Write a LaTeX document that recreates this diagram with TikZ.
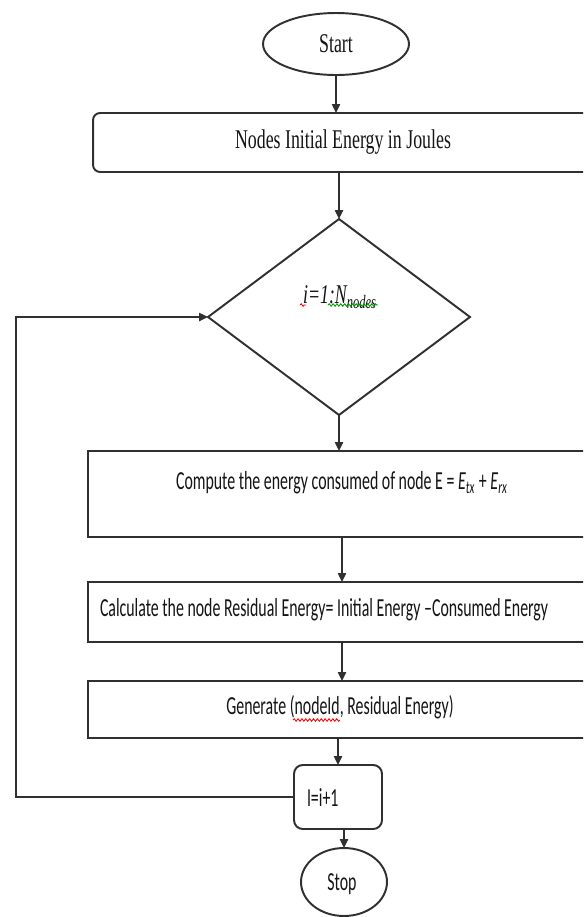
\documentclass[tikz,border=0pt]{standalone}
\usepackage{fontspec}
\usetikzlibrary{shapes.geometric,arrows.meta,decorations.pathmorphing}
\newfontfamily\tnrfont[FakeStretch=0.66]{Liberation Serif}
\newfontfamily\calfont[FakeStretch=0.61]{Carlito}
\definecolor{ln}{HTML}{303030}
\definecolor{txt}{HTML}{151515}
\tikzset{
  x=0.02cm, y=-0.02cm,
  every node/.style={inner sep=0pt, outer sep=0pt, text=txt},
  shp/.style={draw=ln, line width=1.1pt, fill=white},
  arr/.style={draw=ln, line width=1.1pt, -{Triangle[length=5pt,width=4.5pt]}},
  serif/.style={font=\tnrfont\fontsize{15.4}{18}\selectfont},
  sans/.style={font=\calfont\fontsize{14.8}{18}\selectfont},
  squig/.style={line width=0.5pt, decorate, decoration={snake, segment length=2.2pt, amplitude=0.7pt}}
}
\begin{document}
\begin{tikzpicture}
\clip (0,0) rectangle (583,917);
\fill[white] (0,0) rectangle (583,917);
% shapes
\node[shp, ellipse, minimum width=2.92cm, minimum height=1.24cm] (start) at (336,44) {};
\node[serif] (starttxt) at (336,44) {Start};
\node[shp, rectangle, rounded corners=4pt, minimum width=10.0cm, minimum height=1.18cm] (init) at (343,142.5) {};
\node[serif] (inittxt) at (343,142) {Nodes Initial Energy in Joules};
\node[shp, diamond, minimum width=5.24cm, minimum height=3.92cm] (dia) at (339,317) {};
\node[serif, font=\tnrfont\itshape\fontsize{15.4}{18}\selectfont] (diatxt) at (340,297) {i=1:N\textsubscript{nodes}};
\node[shp, rectangle, minimum width=10.16cm, minimum height=1.72cm] (comp) at (342,494) {};
\node[sans] (comptxt) at (342,483) {Compute the energy consumed of node E = \textit{E}\textsubscript{\textit{tx}} + \textit{E}\textsubscript{\textit{rx}}};
\node[shp, rectangle, minimum width=10.16cm, minimum height=1.2cm] (calc) at (342,612) {};
\node[sans, anchor=west] (calctxt) at (100,610) {Calculate the node Residual Energy= Initial Energy –Consumed Energy};
\node[shp, rectangle, minimum width=10.16cm, minimum height=1.14cm] (gen) at (342,709.5) {};
\node[sans] (gentxt) at (340,707) {Generate (nodeId, Residual Energy)};
\node[shp, rectangle, rounded corners=5pt, minimum width=1.76cm, minimum height=1.28cm] (inc) at (338,797) {};
\node[sans, anchor=west] (inctxt) at (307,798) {I=i+1};
\node[shp, ellipse, minimum width=1.72cm, minimum height=1.36cm] (stop) at (344,882) {};
\node[sans] (stoptxt) at (342,884) {Stop};
% connectors
\draw[arr] (start) -- (start |- init.north);
\draw[arr] (dia.north |- init.south) -- (dia.north);
\draw[arr] (dia.south) -- (dia.south |- comp.north);
\draw[arr] (comp.south) -- (comp.south |- calc.north);
\draw[arr] (calc.south) -- (calc.south |- gen.north);
\draw[arr] (inc.north |- gen.south) -- (inc.north);
\draw[arr] (stop.north |- inc.south) -- (stop.north);
\coordinate (lp) at (16,317);
\draw[arr] (inc.west) -| (lp) -- (dia.west);
% spell-check underlines
\draw[squig, red] (300,305) -- (306,305);
\draw[squig, green!60!black] (328,305) -- (378,305);
\draw[squig, red] (293,720) -- (340,720);
\end{tikzpicture}
\end{document}
